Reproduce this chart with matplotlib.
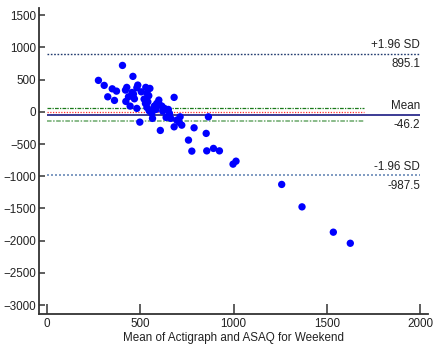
import matplotlib
matplotlib.use("Agg")
import matplotlib.pyplot as plt

plt.rcParams["font.family"] = ["Liberation Sans", "DejaVu Sans"]

# Bland-Altman data: mean of the two methods vs. difference
mean_vals = [275, 306, 325, 349, 372, 361, 404, 460, 420, 427, 436, 422, 445, 463,
             468, 481, 486, 481, 497, 529, 551, 536, 520, 527, 540, 535, 547, 561,
             565, 575, 588, 599, 584, 607, 615, 629, 650, 638, 656, 663, 681, 681,
             695, 713, 722, 708, 758, 776, 788, 853, 865, 856, 892, 924, 997, 1013,
             1258, 1367, 1535, 1626, 545, 505, 572, 620, 455, 600]
diff_vals = [488, 410, 233, 357, 321, 177, 720, 550, 337, 379, 233, 161, 89, 275,
             202, 373, 415, 53, -160, 379, 363, 286, 197, 130, 155, 68, 16, -25,
             -102, 89, 130, 182, 37, -289, 89, 53, 37, -87, -25, -102, 224, -233,
             -129, -78, -207, -165, -439, -610, -248, -335, -78, -606, -568, -606, -812, -766,
             -1127, -1475, -1868, -2040, 250, 310, 60, 10, 300, 120]

mean_diff = -46.2
upper_loa = 895.1
lower_loa = -987.5
ci_upper = 58
ci_lower = -150

fs = 8.4

fig = plt.figure(figsize=(4.35, 3.51), dpi=100)
ax = fig.add_axes([0.09, 0.105, 0.894, 0.872])

ax.hlines(upper_loa, 0, 2000, colors="#1f3a6e", linestyles=(0, (1.2, 1.2)), linewidth=1)
ax.hlines(lower_loa, 0, 2000, colors="#6a8ab8", linestyles=(0, (1.2, 1.2)), linewidth=1.2)
ax.hlines(mean_diff, 0, 2000, colors="#2c2c8c", linewidth=1.3)
ax.hlines(0, 0, 1700, colors="#ff3030", linestyles=(0, (1, 1.2)), linewidth=0.9)
ax.hlines(ci_upper, 0, 1700, colors="#1a7a1a", linestyles=(0, (3, 1, 1, 1)), linewidth=0.9)
ax.hlines(ci_lower, 0, 1700, colors="#6aa86a", linestyles=(0, (3, 1, 1, 1)), linewidth=1.1)

ax.scatter(mean_vals, diff_vals, s=28, color="#0000ff", edgecolors="none", zorder=3)

lab_kw = dict(ha="right", fontsize=fs, color="#222222", textcoords="offset points")
ax.annotate("+1.96 SD", (2000, upper_loa), xytext=(0, 2), va="bottom", **lab_kw)
ax.annotate(f"{upper_loa:.1f}", (2000, upper_loa), xytext=(0, -3), va="top", **lab_kw)
ax.annotate("Mean", (2000, mean_diff), xytext=(0, 2), va="bottom", **lab_kw)
ax.annotate(f"{mean_diff:.1f}", (2000, mean_diff), xytext=(0, -3), va="top", **lab_kw)
ax.annotate("-1.96 SD", (2000, lower_loa), xytext=(0, 2), va="bottom", **lab_kw)
ax.annotate(f"{lower_loa:.1f}", (2000, lower_loa), xytext=(0, -3), va="top", **lab_kw)

ax.set_xlim(-43, 2043)
ax.set_ylim(-3140, 1610)
ax.set_xticks([0, 500, 1000, 1500, 2000])
ax.set_yticks(range(-3000, 1501, 500))

for side in ["top", "right"]:
    ax.spines[side].set_visible(False)
for side in ["left", "bottom"]:
    ax.spines[side].set_linewidth(1.3)
    ax.spines[side].set_color("#333333")

ax.tick_params(axis="y", direction="in", length=4, width=1.1, color="#333333",
               labelsize=fs, labelcolor="#222222", pad=2)
ax.tick_params(axis="x", direction="in", length=7, width=1.1, color="#333333",
               labelsize=fs, labelcolor="#222222", pad=3)

ax.set_xlabel("Mean of Actigraph and ASAQ for Weekend", fontsize=fs, color="#222222", labelpad=1)

fig.savefig("out.png", dpi=100)
